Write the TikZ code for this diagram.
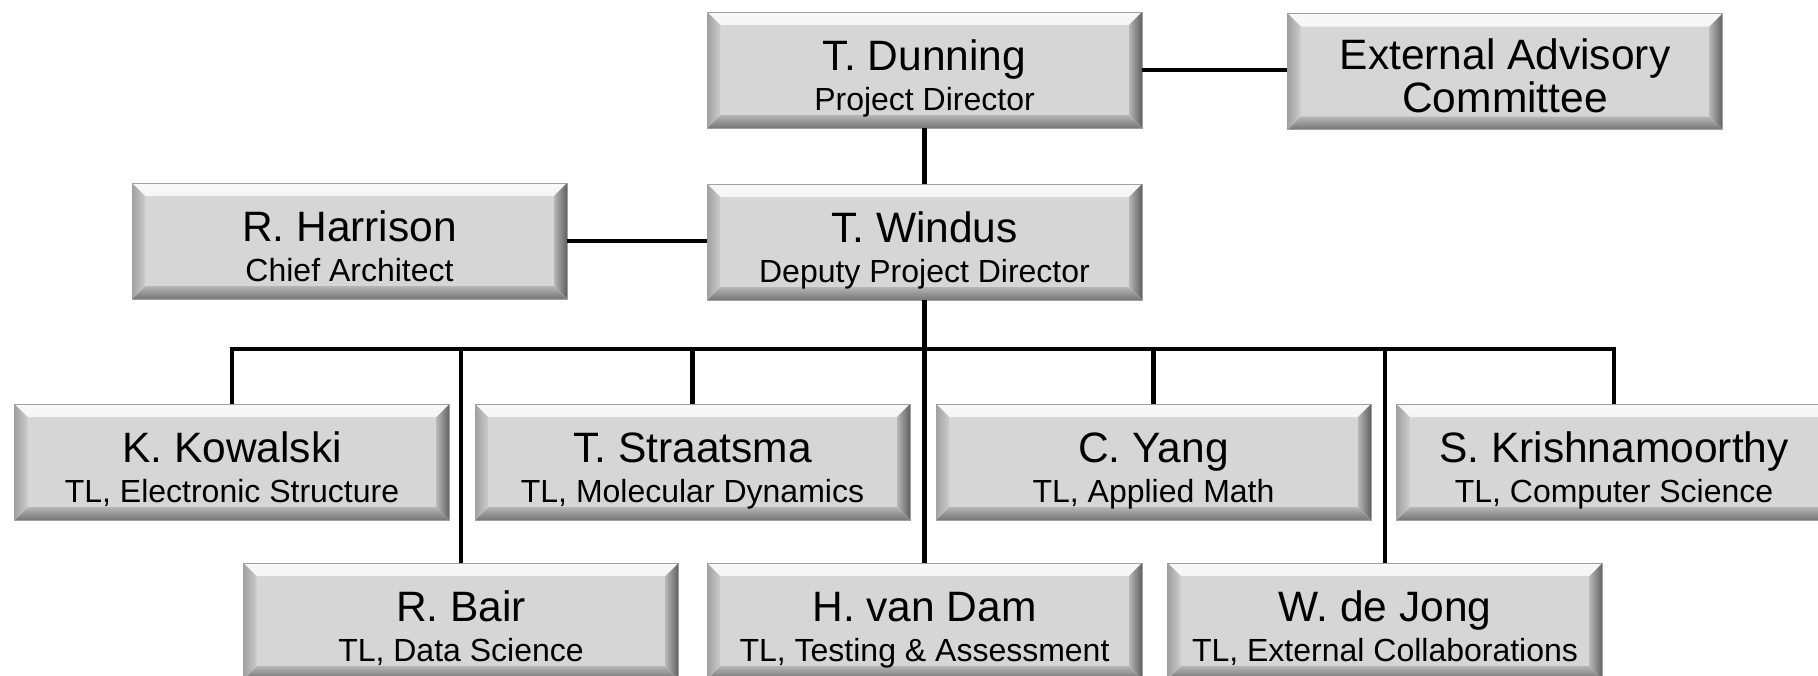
\documentclass[tikz,border=0pt]{standalone}
\usepackage{fontspec}
\setmainfont{Liberation Sans}
\usetikzlibrary{positioning}

\definecolor{boxface}{RGB}{214,214,214}
\definecolor{boxedge}{RGB}{160,160,160}
\definecolor{bevlight}{RGB}{248,248,248}
\definecolor{bevdark}{RGB}{96,96,96}
\def\bevw{13pt}
\def\pb{path picture bounding box}

\tikzset{
  orgbox/.style={rectangle, minimum width=435pt, minimum height=116pt, inner sep=0pt,
    fill=boxface, draw=boxedge, line width=0.8pt,
    path picture={
      % top and bottom bevels
      \fill[top color=bevlight, bottom color=boxface!80!white]
        (\pb.north west) -- (\pb.north east) -- ([xshift=-\bevw,yshift=-\bevw]\pb.north east)
        -- ([xshift=\bevw,yshift=-\bevw]\pb.north west) -- cycle;
      \fill[top color=boxface!85!black, bottom color=boxface!55!black]
        (\pb.south west) -- (\pb.south east) -- ([xshift=-\bevw,yshift=\bevw]\pb.south east)
        -- ([xshift=\bevw,yshift=\bevw]\pb.south west) -- cycle;
      % left and right bevels
      \fill[left color=boxface!75!black, right color=boxface!95!black]
        (\pb.north west) -- ([xshift=\bevw,yshift=-\bevw]\pb.north west)
        -- ([xshift=\bevw,yshift=\bevw]\pb.south west) -- (\pb.south west) -- cycle;
      \fill[left color=boxface!85!black, right color=bevdark]
        (\pb.north east) -- ([xshift=-\bevw,yshift=-\bevw]\pb.north east)
        -- ([xshift=-\bevw,yshift=\bevw]\pb.south east) -- (\pb.south east) -- cycle;
    }},
  namet/.style={anchor=base, inner sep=0pt, font=\fontsize{42.5}{46}\selectfont},
  subt/.style={anchor=base, inner sep=0pt, font=\fontsize{32}{36}\selectfont},
  conn/.style={line width=4.5pt, black, line join=miter},
}

\begin{document}
\begin{tikzpicture}[x=1pt, y=-1pt]
  \clip (0,0) rectangle (1818,675);
  \useasboundingbox (0,0) rectangle (1818,675);

  % Top levels
  \node[orgbox] (dunning) at (924.5,70) {};
  \node[namet] at (dunning.center) {T. Dunning};
  \node[subt] at ([yshift=-40pt]dunning.center) {Project Director};

  \node[orgbox] (advisory) at (1505,71.5) {};
  \node[namet] at ([yshift=2pt]advisory.center) {External Advisory};
  \node[namet] at ([yshift=-41pt]advisory.center) {Committee};

  \node[orgbox] (harrison) at (349.5,241) {};
  \node[namet] at (harrison.center) {R. Harrison};
  \node[subt] at ([yshift=-40pt]harrison.center) {Chief Architect};

  \node[orgbox] (windus) at (924.5,242) {};
  \node[namet] at (windus.center) {T. Windus};
  \node[subt] at ([yshift=-40pt]windus.center) {Deputy Project Director};

  % Team leads, first row
  \node[orgbox] (kowalski) at (232,462) {};
  \node[namet] at (kowalski.center) {K. Kowalski};
  \node[subt] at ([yshift=-40pt]kowalski.center) {TL, Electronic Structure};

  \node[orgbox] (straatsma) at (692.5,462) {};
  \node[namet] at (straatsma.center) {T. Straatsma};
  \node[subt] at ([yshift=-40pt]straatsma.center) {TL, Molecular Dynamics};

  \node[orgbox] (yang) at (1153.5,462) {};
  \node[namet] at (yang.center) {C. Yang};
  \node[subt] at ([yshift=-40pt]yang.center) {TL, Applied Math};

  \node[orgbox] (krishna) at (1614,462) {};
  \node[namet] at (krishna.center) {S. Krishnamoorthy};
  \node[subt] at ([yshift=-40pt]krishna.center) {TL, Computer Science};

  % Team leads, second row
  \node[orgbox] (bair) at (461,621) {};
  \node[namet] at (bair.center) {R. Bair};
  \node[subt] at ([yshift=-40pt]bair.center) {TL, Data Science};

  \node[orgbox] (vandam) at (924.5,621) {};
  \node[namet] at (vandam.center) {H. van Dam};
  \node[subt] at ([yshift=-40pt]vandam.center) {TL, Testing \& Assessment};

  \node[orgbox] (dejong) at (1385,621) {};
  \node[namet] at (dejong.center) {W. de Jong};
  \node[subt] at ([yshift=-40pt]dejong.center) {TL, External Collaborations};

  % Connectors
  \coordinate (bus) at (0,349);
  \draw[conn] (dunning.east) -- (dunning.east -| advisory.west);
  \draw[conn] (harrison.east) -- (harrison.east -| windus.west);
  \draw[conn] (dunning.south) -- (windus.north);
  \draw[conn] (windus.south) -- (vandam.north);
  \draw[conn] (kowalski.north) -- (kowalski.north |- bus) -- (krishna.north |- bus) -- (krishna.north);
  \foreach \b in {bair, straatsma, yang, dejong}
    \draw[conn] (\b.north |- bus) -- (\b.north);
\end{tikzpicture}
\end{document}
